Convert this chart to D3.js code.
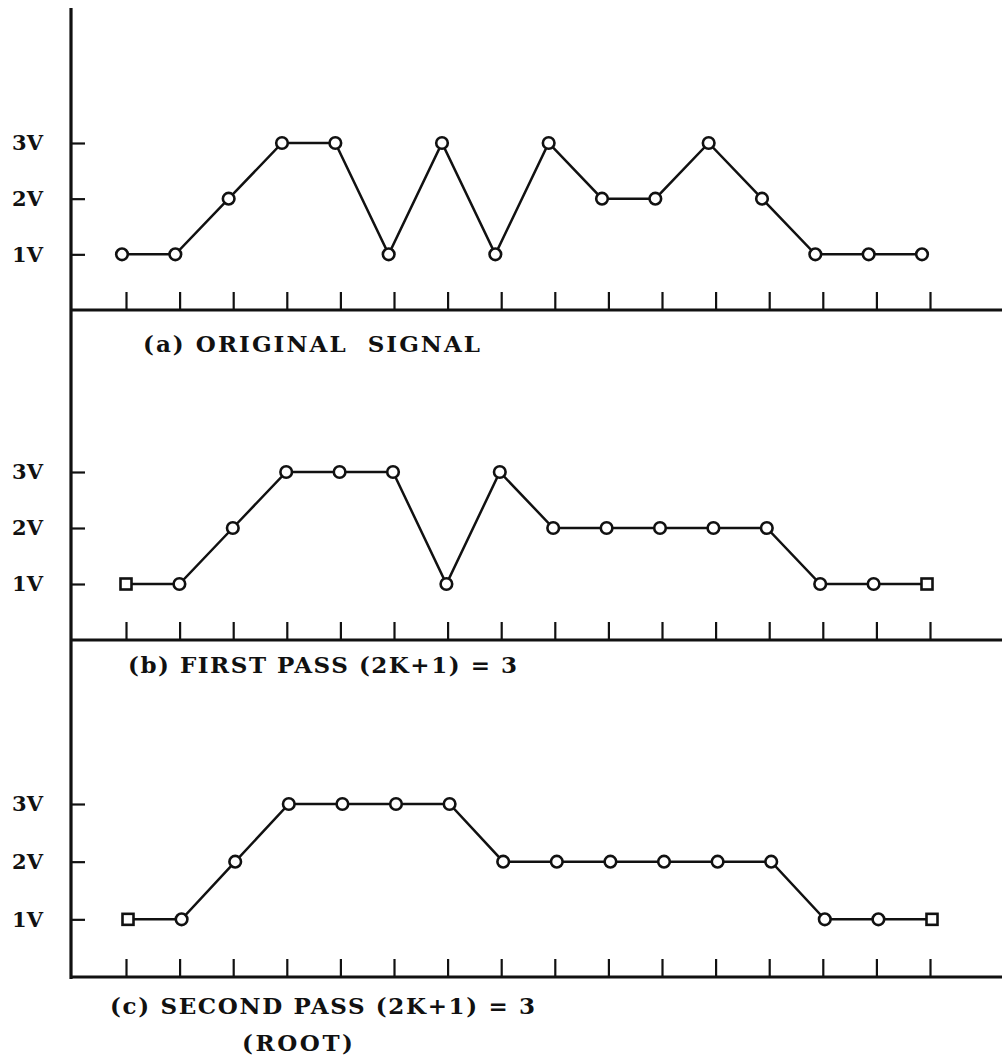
<!DOCTYPE html>
<html>
<head>
<meta charset="utf-8">
<script src="https://cdn.jsdelivr.net/npm/d3@7"></script>
<style>
  body { margin: 0; background: #fff; }
  text { font-family: "DejaVu Serif", "Liberation Serif", serif; font-weight: bold; fill: #111; }
</style>
</head>
<body>
<div id="chart"></div>
<script>
// sample positions along the time axis
var samples = [0, 1, 2, 3, 4, 5, 6, 7, 8, 9, 10, 11, 12, 13, 14, 15]

// signal levels (volts)
var original   = [1, 1, 2, 3, 3, 1, 3, 1, 3, 2, 2, 3, 2, 1, 1, 1]
var firstPass  = [1, 1, 2, 3, 3, 3, 1, 3, 2, 2, 2, 2, 2, 1, 1, 1]
var secondPass = [1, 1, 2, 3, 3, 3, 3, 2, 2, 2, 2, 2, 2, 1, 1, 1]

// end points that are padded (drawn as squares)
var paddedEnds = [false, true, true]

var yTicks = [1, 2, 3]
var yTickLabels = ["1V", "2V", "3V"]

var captions = [
  ["(a) ORIGINAL  SIGNAL"],
  ["(b) FIRST PASS (2K+1) = 3"],
  ["(c) SECOND PASS (2K+1) = 3", "(ROOT)"]
]

var width = 1002, height = 1056
var axisX = 71

// per panel layout: baseline, 3V level, point range, caption placement
var panels = [
  { values: original,   base: 310, top3: 143, px: [122, 922], cap: [[143, 352, 337]] },
  { values: firstPass,  base: 640, top3: 472, px: [126, 927], cap: [[128, 673, 389]] },
  { values: secondPass, base: 977, top3: 804, px: [128, 932], cap: [[110, 1014, 425], [242, 1051, 111]] }
]

var svg = d3.select("#chart").append("svg")
  .attr("width", width)
  .attr("height", height)

// shared vertical axis
svg.append("line")
  .attr("x1", axisX).attr("x2", axisX)
  .attr("y1", 8).attr("y2", 979)
  .attr("stroke", "#111").attr("stroke-width", 3.2)

var tickX = d3.scaleLinear().domain([0, 15]).range([126, 930])

panels.forEach(function(p, i) {
  var y = d3.scaleLinear().domain([0, 3]).range([p.base, p.top3])
  var x = d3.scaleLinear().domain([0, 15]).range(p.px)

  // baseline
  svg.append("line")
    .attr("x1", axisX).attr("x2", width)
    .attr("y1", p.base).attr("y2", p.base)
    .attr("stroke", "#111").attr("stroke-width", 3.2)

  // sample ticks (pointing up)
  var xa = svg.append("g")
    .attr("transform", "translate(0," + p.base + ")")
    .call(d3.axisBottom(tickX).tickValues(samples).tickSize(-18).tickFormat(""))
  xa.select(".domain").remove()
  xa.selectAll("line").attr("stroke", "#111").attr("stroke-width", 2.2)

  // voltage ticks
  var ya = svg.append("g")
    .attr("transform", "translate(" + axisX + ",0)")
    .call(d3.axisLeft(y).tickValues(yTicks).tickSize(-14).tickPadding(28)
      .tickFormat(function(d) { return yTickLabels[yTicks.indexOf(d)] }))
  ya.select(".domain").remove()
  ya.selectAll("line").attr("stroke", "#111").attr("stroke-width", 2.2)
  ya.selectAll("text")
    .attr("font-family", "DejaVu Serif")
    .attr("font-size", 21)
    .attr("font-weight", "bold")
    .attr("fill", "#111")
    .attr("textLength", 31)
    .attr("lengthAdjust", "spacing")

  // signal line
  var line = d3.line()
    .x(function(d, j) { return x(j) })
    .y(function(d) { return y(d) })
  svg.append("path")
    .datum(p.values)
    .attr("d", line)
    .attr("fill", "none")
    .attr("stroke", "#111")
    .attr("stroke-width", 2.5)

  // markers
  var last = p.values.length - 1
  var isSquare = function(j) { return paddedEnds[i] && (j === 0 || j === last) }
  var pts = p.values.map(function(v, j) { return { v: v, j: j } })

  svg.selectAll(null)
    .data(pts.filter(function(d) { return !isSquare(d.j) }))
    .enter().append("circle")
    .attr("cx", function(d) { return x(d.j) })
    .attr("cy", function(d) { return y(d.v) })
    .attr("r", 5.8)
    .attr("fill", "#fff")
    .attr("stroke", "#111")
    .attr("stroke-width", 2.6)

  svg.selectAll(null)
    .data(pts.filter(function(d) { return isSquare(d.j) }))
    .enter().append("rect")
    .attr("x", function(d) { return x(d.j) - 5.5 })
    .attr("y", function(d) { return y(d.v) - 5.5 })
    .attr("width", 11).attr("height", 11)
    .attr("fill", "#fff")
    .attr("stroke", "#111")
    .attr("stroke-width", 2.6)

  // captions
  captions[i].forEach(function(t, k) {
    var c = p.cap[k]
    svg.append("text")
      .attr("x", c[0]).attr("y", c[1])
      .attr("font-size", 23)
      .attr("textLength", c[2])
      .attr("lengthAdjust", "spacing")
      .style("white-space", "pre")
      .text(t)
  })
})
</script>
</body>
</html>
